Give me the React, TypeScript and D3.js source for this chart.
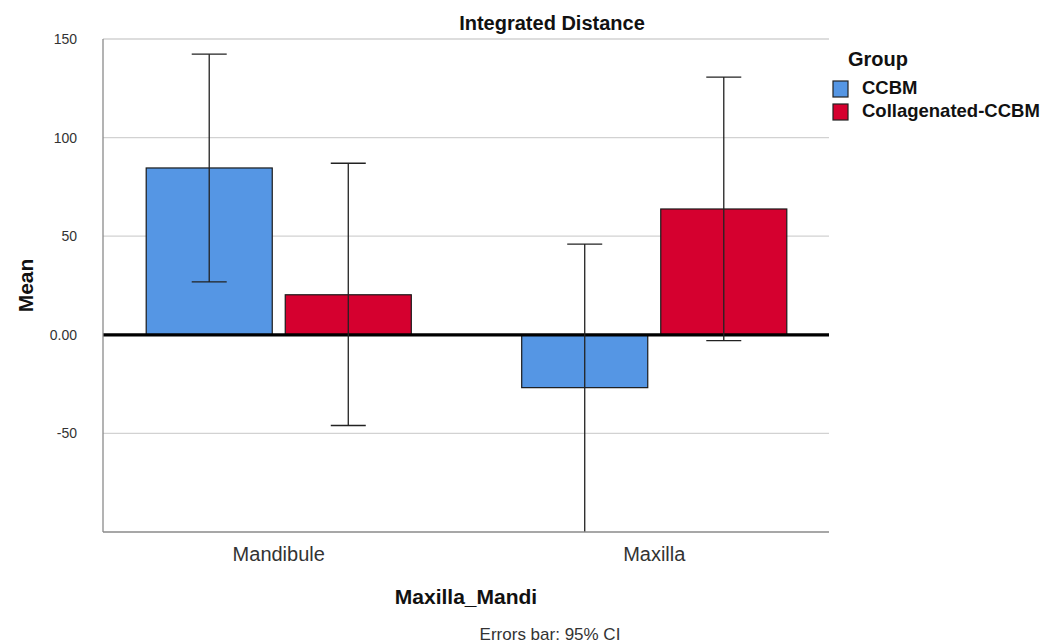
import React from 'react';
import * as d3 from 'd3';

const categories = ['Mandibule', 'Maxilla'];
const groups = ['CCBM', 'Collagenated-CCBM'];
const colors = ['#5596e4', '#d5002f'];
// mean, lower CI, upper CI per category, per group
const ccbmMean = [84.6, -26.8];
const ccbmLow = [26.8, -106];
const ccbmHigh = [142.3, 46];
const collMean = [20.3, 63.8];
const collLow = [-46, -3];
const collHigh = [87, 130.7];
const yTicks = [150, 100, 50, 0, -50];

const W = 1047;
const H = 644;
const plot = { left: 103, right: 829, top: 39, bottom: 532 };
const font = 'Arial, "Liberation Sans", sans-serif';

const App: React.FC = () => {
  const y = d3.scaleLinear().domain([-100, 150]).range([plot.bottom, plot.top]);
  const x = d3
    .scaleBand<string>()
    .domain(categories)
    .range([91, 842])
    .paddingInner(0.294)
    .paddingOuter(0.147);
  const xs = d3.scaleBand<string>().domain(groups).range([0, x.bandwidth()]).paddingInner(0.0935);

  const rows = categories.flatMap((c, i) => [
    { cat: c, g: groups[0], color: colors[0], mean: ccbmMean[i], lo: ccbmLow[i], hi: ccbmHigh[i] },
    { cat: c, g: groups[1], color: colors[1], mean: collMean[i], lo: collLow[i], hi: collHigh[i] },
  ]);

  const capW = 35;
  const fmt = (v: number) => (v === 0 ? '0.00' : String(v));

  return (
    <svg width={W} height={H} style={{ position: 'absolute', left: 0, top: 0 }} fontFamily={font}>
      <defs>
        <clipPath id="plotClip">
          <rect x={plot.left} y={plot.top - 10} width={plot.right - plot.left} height={plot.bottom - plot.top + 10} />
        </clipPath>
      </defs>
      <rect width={W} height={H} fill="#fff" />

      {/* grid */}
      {yTicks.filter(t => t !== 0).map(t => (
        <line key={t} x1={plot.left} x2={plot.right} y1={y(t)} y2={y(t)} stroke="#d2d2d2" strokeWidth={1.3} />
      ))}

      {/* bars */}
      {rows.map((r, i) => {
        const bx = (x(r.cat) as number) + (xs(r.g) as number);
        const y0 = y(0);
        const y1 = y(r.mean);
        return (
          <rect
            key={i}
            x={bx}
            y={Math.min(y0, y1)}
            width={xs.bandwidth()}
            height={Math.abs(y1 - y0)}
            fill={r.color}
            stroke="#1a1a1a"
            strokeWidth={1.2}
          />
        );
      })}

      {/* zero line */}
      <line x1={plot.left} x2={plot.right} y1={y(0)} y2={y(0)} stroke="#000" strokeWidth={3.2} />

      {/* error bars */}
      <g clipPath="url(#plotClip)" stroke="#222" strokeWidth={1.3}>
        {rows.map((r, i) => {
          const cx = (x(r.cat) as number) + (xs(r.g) as number) + xs.bandwidth() / 2;
          return (
            <g key={i}>
              <line x1={cx} x2={cx} y1={y(r.lo)} y2={y(r.hi)} />
              <line x1={cx - capW / 2} x2={cx + capW / 2} y1={y(r.hi)} y2={y(r.hi)} />
              <line x1={cx - capW / 2} x2={cx + capW / 2} y1={y(r.lo)} y2={y(r.lo)} />
            </g>
          );
        })}
      </g>

      {/* axes */}
      <line x1={plot.left} x2={plot.left} y1={plot.top} y2={plot.bottom} stroke="#8a8a8a" strokeWidth={1.3} />
      <line x1={plot.left} x2={plot.right} y1={plot.bottom} y2={plot.bottom} stroke="#8a8a8a" strokeWidth={1.3} />

      {yTicks.map(t => (
        <text key={t} x={77} y={y(t)} dy="0.35em" textAnchor="end" fontSize={14} fill="#333">
          {fmt(t)}
        </text>
      ))}
      {categories.map(c => (
        <text
          key={c}
          x={(x(c) as number) + x.bandwidth() / 2}
          y={561}
          textAnchor="middle"
          fontSize={20}
          fill="#333"
        >
          {c}
        </text>
      ))}

      <text x={552} y={30} textAnchor="middle" fontSize={20} fontWeight="bold" fill="#111">
        Integrated Distance
      </text>
      <text
        transform={`translate(33,${(plot.top + plot.bottom) / 2}) rotate(-90)`}
        textAnchor="middle"
        fontSize={21}
        fontWeight="bold"
        fill="#111"
      >
        Mean
      </text>
      <text x={466} y={604} textAnchor="middle" fontSize={21} fontWeight="bold" fill="#111">
        Maxilla_Mandi
      </text>
      <text x={550} y={640} textAnchor="middle" fontSize={17} fill="#333">
        Errors bar: 95% CI
      </text>

      {/* legend */}
      <text x={848} y={66} fontSize={20} fontWeight="bold" fill="#111">
        Group
      </text>
      {groups.map((g, i) => (
        <g key={g} transform={`translate(833,${81 + i * 23})`}>
          <rect width={15} height={16} fill={colors[i]} stroke="#222" strokeWidth={1.2} />
          <text x={29} y={13} fontSize={18.5} fontWeight="bold" fill="#111">
            {g}
          </text>
        </g>
      ))}
    </svg>
  );
};

export default App;
